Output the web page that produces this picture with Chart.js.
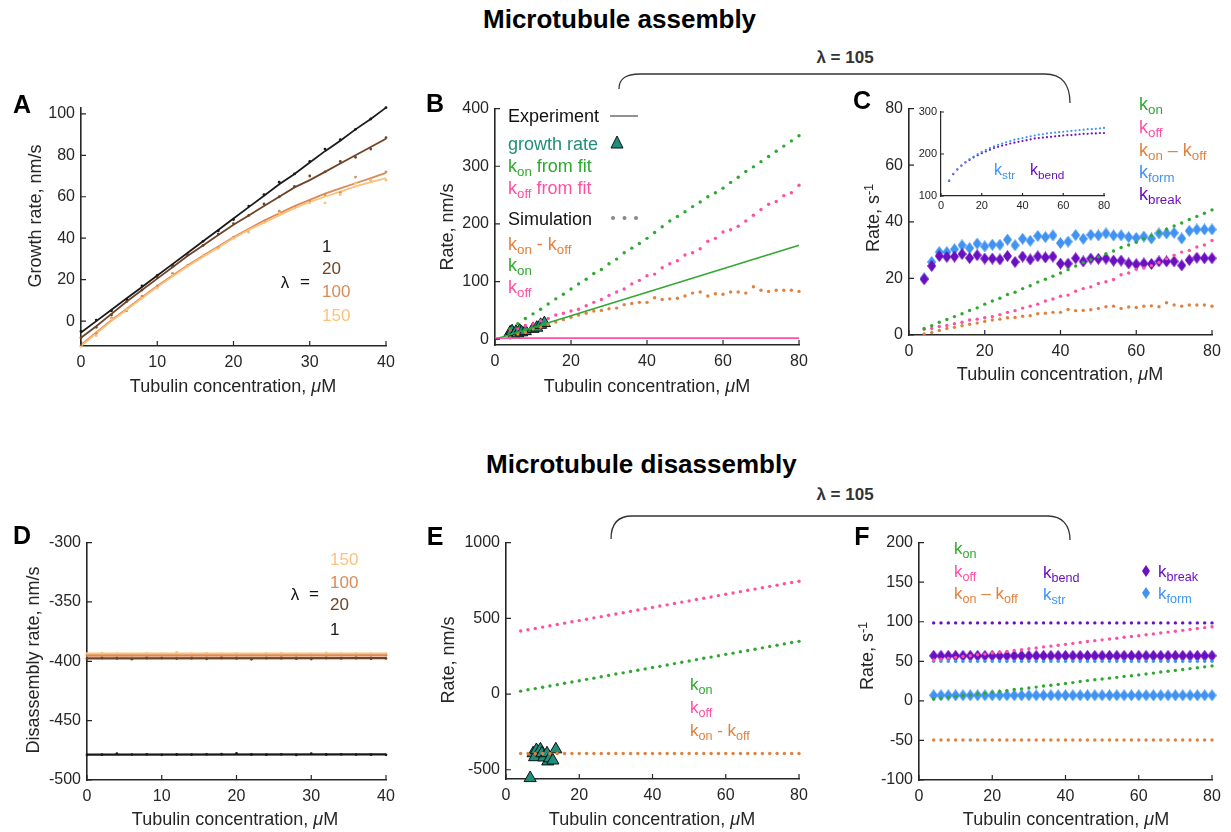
<!DOCTYPE html>
<html><head><meta charset="utf-8">
<script src="https://cdn.jsdelivr.net/npm/chart.js@4.4.1/dist/chart.umd.min.js"></script>
<style>
body{margin:0;background:#fff;}
#wrap{position:relative;width:1231px;height:832px;overflow:hidden;background:#fff;font-family:"Liberation Sans",Arial,Helvetica,sans-serif;}
canvas{position:absolute;}
.t{position:absolute;white-space:nowrap;line-height:1;}
.t sub{font-size:0.74em;vertical-align:baseline;position:relative;top:0.32em;}
.t sup{font-size:0.7em;vertical-align:baseline;position:relative;top:-0.5em;}
svg{position:absolute;left:0;top:0;}
</style></head><body><div id="wrap"></div>
<script>
// ---------------- DATA ----------------
const xA = [0,2,4,6,8,10,12,14,16,18,20,22,24,26,28,30,32,34,36,38,40];
const a1Line   = [-5.5,0,5.5,11,16.5,22,27.5,33,38.5,44,49.5,55,60.5,66,71,76.5,82,87,92.5,97.5,103];
const a20Line  = [-8,-2.5,3.5,9.5,15,20.5,26,31.5,36.5,41.5,46.5,51,55.5,60,64.5,68,72,76,80,84,88];
const a100Line = [-11.5,-5.5,0.5,6,11.5,17,22,27,31.5,36,40.5,44.5,48.5,52,55.5,58.5,61.5,64,66.5,69,71.5];
const a150Line = [-12,-6,0,5.5,11,16.5,21.5,26.5,31,35.5,40,44,47.5,51,54.5,57.5,60,62.5,65,67,69];
const a1Pts   = [-5,0.5,5,10.5,17,22,27,32,38.5,43.5,49,55.5,61,67,71,77,83,87.5,92.5,97.5,103];
const a20Pts  = [-8,-3,3,9.5,15,21,26.5,32,36.5,42,47,51,56.5,60,65,70,72,77,79,83,88.5];
const a100Pts = [-12,-6,1.5,5,12,17,23,27,31.5,35.5,40.5,43,48,53,55,58,61,62,69.5,68,72];
const a150Pts = [-12,-7,1,5.5,11,16,22,26.5,31.5,35,40,43,47.5,52,54.5,57,57,61,66.5,68,68];

const xSim = [4,6,8,10,12,14,16,18,20,22,24,26,28,30,32,34,36,38,40,42,44,46,48,50,52,54,56,58,60,62,64,66,68,70,72,74,76,78,80];
const bKon  = [18,27,36,44,52,61,70,78,87,96,104,114,121,131,139,150,158,166,175,185,195,205,213,221,230,238,247,254,262,272,281,291,299,308,317,326,335,344,353];
const bKoff = [16,18,24,27,32,36,42,45,49,52,58,64,69,76,82,87,96,102,110,113,124,131,136,146,150,157,170,175,186,190,196,205,215,225,234,239,249,254,267];
const bDiff = [2,9,12,18,21,26,30,34,38,42,45,49,50,53,54,60,62,64,64,72,69,70,71,75,80,82,75,79,78,82,82,80,91,85,83,85,85,85,83];
const fitX = [0,80];
const bKonFit  = [0,163];
const bKoffFit = [2,2];
const expX = [4,4.5,5,5.5,6,6.5,7,8,10,11,12,13];
const expGrowth = [12,14,8,13,10,15,12,14,18,20,25,28];

const cKon  = [2.3,3.3,4.5,5.5,6.5,7.5,8.7,9.6,10.9,12,13,14.3,15.1,16.4,17.4,18.7,19.7,20.8,21.9,23.1,24.4,25.6,26.6,27.6,28.7,29.7,30.9,31.8,32.8,34,35.1,36.4,37.4,38.5,39.6,40.8,41.9,43,44.2];
const cKoff = [2,2.3,3,3.4,4,4.5,5.3,5.6,6.1,6.5,7.2,8,8.6,9.5,10.2,10.9,12,12.7,13.7,14.1,15.5,16.4,17,18.2,18.8,19.6,21.3,21.9,23.2,23.7,24.5,25.6,26.9,28.2,29.3,29.9,31.1,31.8,33.4];
const cDiff = [0.4,0.9,1.6,2.3,2.7,3.3,3.8,4.2,4.8,5.3,5.6,6.1,6.2,6.6,6.8,7.5,7.7,8,8,9,8.6,8.7,8.9,9.4,10,10.2,9.4,9.9,9.7,10.2,10.3,10,11.4,10.6,10.2,10.6,10.6,10.6,10.2];
const cForm  = [20,25.8,29.3,29.3,30.3,31.7,30.7,32.3,31.3,31.9,31.9,33.7,31.7,34,33.3,35,34.6,35.2,32.5,33,35.3,34,35.4,35.2,35.9,35.2,35.2,34.6,34.3,34.8,34.1,35.9,35.9,36.1,34.1,36.8,37.3,37.3,37.3];
const cBreak = [19.7,24.4,27.9,27.6,27.7,28.6,27.2,28.2,27,27,26.7,27.9,25.8,27.7,26.7,27.8,27.4,27.7,25.2,25.2,27.1,26,27,26.9,27,26.3,26.3,25.3,25,25.3,25.1,26,26,26,24.6,26.5,27.3,27.1,27.1];
const inStr  = [137,153,164,173,181,188,194,200,205,210,214,218,222,225,228,231,234,236,238,240,242,244,246,247,249,250,251,252,253,254,255,256,257,258,259,259,260,261,262];
const inBend = [136,152,163,172,180,186,192,197,202,206,210,214,217,220,222,225,227,229,231,233,235,237,238,239,240,241,242,243,244,245,245,246,247,248,248,249,249,250,250];

const dLineX = [0,40];
const d1Line = [-478.6,-478.4];
const d20Line = [-397.5,-397.3];
const d100Line = [-395.2,-395.0];
const d150Line = [-393.6,-393.5];
const d1Pts   = [-478.9,-478.7,-477.9,-478.6,-478.4,-478.8,-478.5,-478.6,-478.4,-478.3,-477.6,-478.5,-478.7,-478.4,-478.9,-477.9,-478.5,-478.4,-478.6,-478.7,-478.8];
const d20Pts  = [-397.8,-397.2,-397.6,-398.2,-397.4,-397.3,-397.7,-397.5,-397.9,-397.2,-397.6,-398.3,-397.4,-397.5,-397.8,-398.1,-397.3,-397.6,-397.4,-397.8,-397.6];
const d100Pts = [-395.1,-394.8,-395.4,-394.9,-395.6,-395.0,-394.7,-395.3,-394.9,-395.5,-395.1,-394.6,-395.0,-396.4,-395.2,-394.8,-395.3,-395.0,-396.2,-395.1,-395.0];
const d150Pts = [-393.6,-393.2,-393.5,-393.9,-393.4,-393.8,-392.4,-393.6,-393.3,-393.7,-393.5,-393.9,-393.4,-393.2,-393.6,-393.8,-392.9,-393.5,-393.4,-393.6,-393.5];

const eKon  = [19,28,36,45,53,62,71,80,88,97,105,114,123,132,140,149,157,166,175,183,192,201,210,218,227,236,244,253,262,270,279,288,296,305,314,322,331,340,348];
const eKoff = [416,425,433,442,451,459,468,477,485,494,503,511,520,529,537,546,555,563,572,581,589,598,607,615,624,633,641,650,659,667,676,685,693,702,711,719,728,737,745];
const eDiff = [-393,-393,-393,-393,-393,-393,-393,-393,-393,-393,-393,-393,-393,-393,-393,-393,-393,-393,-393,-393,-393,-393,-393,-393,-393,-393,-393,-393,-393,-393,-393,-393,-393,-393,-393,-393,-393,-393,-393];
const expXE = [6.6,7.4,7.8,8.3,9.4,9.8,10.3,11.2,11.4,11.9,12.8,13.6];
const expShrink = [-555,-391,-417,-369,-365,-391,-419,-391,-445,-424,-439,-365];

const fKon  = [2.3,3.3,4.5,5.5,6.5,7.5,8.7,9.6,10.9,12,13,14.3,15.1,16.4,17.4,18.7,19.7,20.8,21.9,23.1,24.4,25.6,26.6,27.6,28.7,29.7,30.9,31.8,32.8,34,35.1,36.4,37.4,38.5,39.6,40.8,41.9,43,44.2];
const fKoff = [51.8,52.8,54,55,56,57,58.2,59.1,60.4,61.5,62.5,63.8,64.6,65.9,66.9,68.2,69.2,70.3,71.4,72.6,73.9,75.1,76.1,77.1,78.2,79.2,80.4,81.3,82.3,83.5,84.6,85.9,86.9,88,89.1,90.3,91.4,92.5,93.7];
const fDiff = [-49.5,-49.5,-49.5,-49.5,-49.5,-49.5,-49.5,-49.5,-49.5,-49.5,-49.5,-49.5,-49.5,-49.5,-49.5,-49.5,-49.5,-49.5,-49.5,-49.5,-49.5,-49.5,-49.5,-49.5,-49.5,-49.5,-49.5,-49.5,-49.5,-49.5,-49.5,-49.5,-49.5,-49.5,-49.5,-49.5,-49.5,-49.5,-49.5];
const fBend = [98.5,98.5,98.5,98.5,98.5,98.5,98.5,98.5,98.5,98.5,98.5,98.5,98.5,98.5,98.5,98.5,98.5,98.5,98.5,98.5,98.5,98.5,98.5,98.5,98.5,98.5,98.5,98.5,98.5,98.5,98.5,98.5,98.5,98.5,98.5,98.5,98.5,98.5,98.5];
const fStr  = [50,50,50,50,50,50,50,50,50,50,50,50,50,50,50,50,50,50,50,50,50,50,50,50,50,50,50,50,50,50,50,50,50,50,50,50,50,50,50];
const fBreak= [57,57,57,57,57,57,57,57,57,57,57,57,57,57,57,57,57,57,57,57,57,57,57,57,57,57,57,57,57,57,57,57,57,57,57,57,57,57,57];
const fForm = [7,7,7,7,7,7,7,7,7,7,7,7,7,7,7,7,7,7,7,7,7,7,7,7,7,7,7,7,7,7,7,7,7,7,7,7,7,7,7];

const ticks40 = [0,10,20,30,40];
const ticks80 = [0,20,40,60,80];
const ticksA = [0,20,40,60,80,100];
const ticksB = [0,100,200,300,400];
const ticksC = [0,20,40,60,80];
const ticksIn = [100,200,300];
const ticksD = [-500,-450,-400,-350,-300];
const ticksE = [-500,0,500,1000];
const ticksF = [-100,-50,0,50,100,150,200];

// ---------------- STYLE ----------------
const FONT = '"Liberation Sans", Arial, Helvetica, sans-serif';
const AX = '#262626';
const GREEN='#2fa82f', PINK='#ff4fa3', ORANGE='#e0823f', BLUE='#4193f2', PURPLE='#6b10c0', TEAL='#1f8f7c';
const C1='#1a1a1a', C20='#6e4426', C100='#d98a59', C150='#fcc27c';
const wrap = document.getElementById('wrap');

function pts(xs, ys){ return xs.map((x,i)=>({x:x,y:ys[i]})); }
function diamond(color,w,h){
  const c=document.createElement('canvas'); c.width=w; c.height=h;
  const g=c.getContext('2d'); g.fillStyle=color; g.beginPath();
  g.moveTo(w/2,0); g.lineTo(w,h/2); g.lineTo(w/2,h); g.lineTo(0,h/2); g.closePath(); g.fill();
  return c;
}
function line(xs,ys,color,width){ return {data:pts(xs,ys),showLine:true,borderColor:color,borderWidth:width,pointRadius:0,clip:false,tension:0}; }
function dots(xs,ys,color,r){ return {data:pts(xs,ys),showLine:false,backgroundColor:color,borderColor:color,borderWidth:0,pointRadius:r,clip:false}; }

function makeChart(g, xr, yr, datasets, opt){
  opt = opt||{};
  const YW = opt.yw||58, XH = opt.xh||32, PT=14, PR=22;
  const fs = opt.fs||16, tl = opt.tl||5;
  const cv = document.createElement('canvas');
  cv.width = YW+g.W+PR; cv.height = PT+g.H+XH;
  cv.style.left=(g.L-YW)+'px'; cv.style.top=(g.T-PT)+'px';
  wrap.appendChild(cv);
  const inward = {id:'inward', afterDatasetsDraw(ch){
    const c=ch.ctx, a=ch.chartArea; c.save(); c.strokeStyle=AX; c.lineWidth=1.2; c.beginPath();
    ch.scales.x.ticks.forEach(t=>{const p=ch.scales.x.getPixelForValue(t.value); c.moveTo(p,a.bottom); c.lineTo(p,a.bottom-tl);});
    ch.scales.y.ticks.forEach(t=>{const p=ch.scales.y.getPixelForValue(t.value); c.moveTo(a.left,p); c.lineTo(a.left+tl,p);});
    c.stroke(); c.restore();
  }};
  const sc = (r, isX)=>({
    type:'linear', min:r.min, max:r.max,
    afterBuildTicks:s=>{ s.ticks = r.ticks.map(v=>({value:v})); },
    afterFit:s=>{ if(isX) s.height=XH; else s.width=YW; },
    grid:{drawOnChartArea:false, drawTicks:false},
    border:{display:true,color:AX,width:opt.bw||1.6},
    ticks:{font:{family:FONT,size:fs},color:AX,padding:isX?(opt.xp||7):(opt.yp||6),maxRotation:0,autoSkip:false,callback:v=>String(v)}
  });
  return new Chart(cv,{type:'scatter',data:{datasets:datasets},
    options:{responsive:false,animation:false,events:[],layout:{padding:{top:PT,right:PR,left:0,bottom:0}},
      plugins:{legend:{display:false},tooltip:{enabled:false}},
      scales:{x:sc(xr,true),y:sc(yr,false)}},
    plugins:[inward]});
}

// ---------------- PANELS ----------------
// A
makeChart({L:81,T:106,W:305,H:240},{min:0,max:40,ticks:ticks40},{min:-12,max:103,ticks:ticksA},[
  dots(xA,a150Pts,C150,1.4), dots(xA,a100Pts,C100,1.4), dots(xA,a20Pts,C20,1.4), dots(xA,a1Pts,C1,1.4),
  line(xA,a150Line,C150,1.8), line(xA,a100Line,C100,1.8), line(xA,a20Line,C20,1.8), line(xA,a1Line,C1,1.8)
]);
// B
makeChart({L:495,T:107,W:304,H:238},{min:0,max:80,ticks:ticks80},{min:-10,max:400,ticks:ticksB},[
  line(fitX,bKoffFit,PINK,1.6), line(fitX,bKonFit,GREEN,1.4),
  dots(xSim,bKon,GREEN,1.7), dots(xSim,bKoff,PINK,1.7), dots(xSim,bDiff,ORANGE,1.7),
  {data:pts(expX,expGrowth),showLine:false,pointStyle:'triangle',pointRadius:7,backgroundColor:TEAL,borderColor:'#111',borderWidth:1,clip:false}
]);
// C
const dBlue=diamond(BLUE,9,12), dPurp=diamond(PURPLE,9,12);
makeChart({L:909,T:107,W:303,H:228},{min:0,max:80,ticks:ticks80},{min:0,max:80,ticks:ticksC},[
  dots(xSim,cKon,GREEN,1.7), dots(xSim,cKoff,PINK,1.7), dots(xSim,cDiff,ORANGE,1.7),
  {data:pts(xSim,cBreak),showLine:false,pointStyle:dPurp,pointRadius:5,clip:false},
  {data:pts(xSim,cForm),showLine:false,pointStyle:dBlue,pointRadius:5,clip:false}
]);
// C inset
makeChart({L:941,T:112,W:163,H:84},{min:0,max:80,ticks:ticks80},{min:100,max:300,ticks:ticksIn},[
  dots(xSim,inStr,BLUE,1.1), dots(xSim,inBend,PURPLE,1.1)
],{yw:35,xh:20,fs:11,tl:3,xp:3,yp:4,bw:1.2});
// D
makeChart({L:87,T:541,W:299,H:239},{min:0,max:40,ticks:ticks40},{min:-500,max:-300,ticks:ticksD},[
  line(dLineX,d1Line,C1,2.4), line(dLineX,d20Line,C20,2.4), line(dLineX,d100Line,C100,2.4), line(dLineX,d150Line,C150,2.4),
  dots(xA,d1Pts,C1,1.4), dots(xA,d20Pts,C20,1.4), dots(xA,d100Pts,C100,1.4), dots(xA,d150Pts,C150,1.4)
]);
// E
makeChart({L:506,T:541,W:293,H:238},{min:0,max:80,ticks:ticks80},{min:-561,max:1000,ticks:ticksE},[
  dots(xSim,eKon,GREEN,1.7), dots(xSim,eKoff,PINK,1.7), dots(xSim,eDiff,ORANGE,1.7),
  {data:pts(expXE,expShrink),showLine:false,pointStyle:'triangle',pointRadius:7,backgroundColor:TEAL,borderColor:'#111',borderWidth:1,clip:false}
]);
// F
makeChart({L:919,T:541,W:293,H:239},{min:0,max:80,ticks:ticks80},{min:-100,max:200,ticks:ticksF},[
  dots(xSim,fBend,PURPLE,1.7), dots(xSim,fKoff,PINK,1.7), dots(xSim,fStr,BLUE,1.7), dots(xSim,fKon,GREEN,1.7), dots(xSim,fDiff,ORANGE,1.7),
  {data:pts(xSim,fBreak),showLine:false,pointStyle:dPurp,pointRadius:5,clip:false},
  {data:pts(xSim,fForm),showLine:false,pointStyle:dBlue,pointRadius:5,clip:false}
]);

// ---------------- TEXT ----------------
function T(html,x,y,o){
  o=o||{}; const d=document.createElement('div'); d.className='t'; d.innerHTML=html;
  d.style.left=x+'px'; d.style.top=y+'px'; d.style.fontSize=(o.size||17)+'px';
  d.style.color=o.color||AX; if(o.bold) d.style.fontWeight='bold';
  const ax = o.anchor==='c'?'-50%':(o.anchor==='r'?'-100%':'0');
  d.style.transform = o.rot ? 'translate(-50%,-50%) rotate(-90deg)' : 'translate('+ax+',-50%)';
  wrap.appendChild(d); return d;
}
const XT = 'Tubulin concentration, <i>μ</i>M';
T('Microtubule assembly',483,19,{size:26,bold:true,color:'#000'});
T('Microtubule disassembly',486,464,{size:26,bold:true,color:'#000'});
T('λ = 105',845,57,{size:17,bold:true,color:'#333',anchor:'c'});
T('λ = 105',845,494,{size:17,bold:true,color:'#333',anchor:'c'});
// panel letters
T('A',22,104,{size:25,bold:true,color:'#000',anchor:'c'});
T('B',435,103,{size:25,bold:true,color:'#000',anchor:'c'});
T('C',862,100,{size:25,bold:true,color:'#000',anchor:'c'});
T('D',22,535,{size:25,bold:true,color:'#000',anchor:'c'});
T('E',435,536,{size:25,bold:true,color:'#000',anchor:'c'});
T('F',862,536,{size:25,bold:true,color:'#000',anchor:'c'});
// axis titles
T(XT,233,386,{size:18,anchor:'c'}); T(XT,647,386,{size:18,anchor:'c'}); T(XT,1060,374,{size:18,anchor:'c'});
T(XT,235,819,{size:18,anchor:'c'}); T(XT,652,819,{size:18,anchor:'c'}); T(XT,1066,819,{size:18,anchor:'c'});
T('Growth rate, nm/s',35,216,{size:18,rot:true});
T('Rate, nm/s',447,227,{size:18,rot:true});
T('Rate, s<sup>-1</sup>',873,218,{size:18,rot:true});
T('Disassembly rate, nm/s',33,660,{size:18,rot:true});
T('Rate, nm/s',448,660,{size:18,rot:true});
T('Rate, s<sup>-1</sup>',867,656,{size:18,rot:true});
// A legend
T('1',322,246,{color:C1}); T('20',322,268,{color:C20}); T('100',322,291,{color:C100}); T('150',322,315,{color:C150});
T('λ',285,282,{color:'#111',anchor:'c'}); T('=',305,281,{color:'#111',anchor:'c'});
// D legend
T('150',330,559,{color:C150}); T('100',330,582,{color:C100}); T('20',330,604,{color:C20}); T('1',330,629,{color:C1});
T('λ',295,594,{color:'#111',anchor:'c'}); T('=',314,593,{color:'#111',anchor:'c'});
// B legend
T('Experiment',508,116,{size:18,color:'#111'});
T('growth rate',508,144,{size:18,color:TEAL});
T('k<sub>on</sub> from fit',508,166,{size:18,color:GREEN});
T('k<sub>off</sub> from fit',508,188,{size:18,color:PINK});
T('Simulation',508,219,{size:18,color:'#111'});
T('k<sub>on</sub> - k<sub>off</sub>',508,244,{size:18,color:ORANGE});
T('k<sub>on</sub>',508,265,{size:18,color:GREEN});
T('k<sub>off</sub>',508,287,{size:18,color:PINK});
// C legend
T('k<sub>on</sub>',1139,104,{size:18,color:GREEN});
T('k<sub>off</sub>',1139,127,{size:18,color:PINK});
T('k<sub>on</sub> – k<sub>off</sub>',1139,150,{size:18,color:ORANGE});
T('k<sub>form</sub>',1139,172,{size:18,color:BLUE});
T('k<sub>break</sub>',1139,194,{size:18,color:PURPLE});
T('k<sub>str</sub>',994,170,{size:16,color:BLUE});
T('k<sub>bend</sub>',1030,170,{size:16,color:PURPLE});
// E legend
T('k<sub>on</sub>',690,684,{size:17,color:GREEN});
T('k<sub>off</sub>',690,707,{size:17,color:PINK});
T('k<sub>on</sub> - k<sub>off</sub>',690,730,{size:17,color:ORANGE});
// F legend
T('k<sub>on</sub>',954,548,{size:17,color:GREEN});
T('k<sub>off</sub>',954,571,{size:17,color:PINK});
T('k<sub>on</sub> – k<sub>off</sub>',954,593,{size:17,color:ORANGE});
T('k<sub>bend</sub>',1043,572,{size:17,color:PURPLE});
T('k<sub>str</sub>',1043,594,{size:17,color:BLUE});
T('k<sub>break</sub>',1158,571,{size:17,color:PURPLE});
T('k<sub>form</sub>',1158,593,{size:17,color:BLUE});

// ---------------- SVG decorations (brackets, legend glyphs) ----------------
const NS='http://www.w3.org/2000/svg';
const svg=document.createElementNS(NS,'svg'); svg.setAttribute('width',1231); svg.setAttribute('height',832);
svg.innerHTML =
 '<path d="M619,89 C619,79 625,74 640,74 L1045,74 C1062,74 1070,85 1070,103" fill="none" stroke="#333" stroke-width="1.3"/>'+
 '<path d="M611,539 C611,524 617,516 632,516 L1048,516 C1062,516 1070,525 1070,540" fill="none" stroke="#333" stroke-width="1.3"/>'+
 '<line x1="610" y1="116" x2="638" y2="116" stroke="#777" stroke-width="1.6"/>'+
 '<polygon points="617,136 611,148 623,148" fill="'+TEAL+'" stroke="#111" stroke-width="1"/>'+
 '<circle cx="613" cy="218" r="2" fill="#888"/><circle cx="624.5" cy="218" r="2" fill="#888"/><circle cx="636" cy="218" r="2" fill="#888"/>'+
 '<polygon points="1146,565 1150,571 1146,577 1142,571" fill="'+PURPLE+'"/>'+
 '<polygon points="1146,587 1150,593 1146,599 1142,593" fill="'+BLUE+'"/>';
wrap.appendChild(svg);
</script></body></html>
